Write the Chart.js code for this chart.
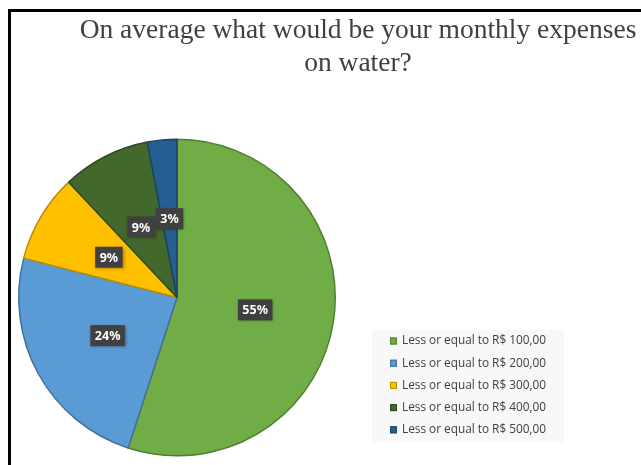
<!DOCTYPE html>
<html lang="en">
<head>
    <meta charset="UTF-8">
    <title>Monthly water expenses</title>
    <script src="https://cdn.jsdelivr.net/npm/chart.js"></script>
    <style>
        body {
            margin: 0;
            padding: 0;
            background: #fff;
            width: 641px;
            height: 465px;
            overflow: hidden;
            position: relative;
        }
        .frame {
            position: absolute;
            left: 8px;
            top: 9px;
            right: 0;
            bottom: 0;
            border-left: 3px solid #000;
            border-top: 3px solid #000;
        }
        .title {
            position: absolute;
            left: 40px;
            width: 636px;
            top: 12px;
            text-align: center;
            font-family: "Liberation Serif", "DejaVu Serif", serif;
            font-size: 27.5px;
            line-height: 33px;
            color: #404040;
        }
        #chart {
            position: absolute;
            left: 0;
            top: 0;
        }
    </style>
</head>
<body>
    <div class="frame"></div>
    <canvas id="chart" width="641" height="465"></canvas>
    <div class="title">On average what would be your monthly expenses<br>on water?</div>
    <script>
        // Survey answers (share of respondents, %)
        const categories = [
            'Less or equal to R$ 100,00',
            'Less or equal to R$ 200,00',
            'Less or equal to R$ 300,00',
            'Less or equal to R$ 400,00',
            'Less or equal to R$ 500,00'
        ];
        const shares = [55, 24, 9, 9, 3];
        const sliceColors = ['#70ad47', '#5b9bd5', '#ffc000', '#43682b', '#255e91'];
        const sliceEdges = ['#507e32', '#41719c', '#bc8c00', '#2f4b1e', '#1a4468'];

        // Dark boxes with the percentage in the middle of each slice
        const sliceLabels = {
            id: 'sliceLabels',
            afterDatasetsDraw(chart) {
                const ctx = chart.ctx;
                const meta = chart.getDatasetMeta(0);
                ctx.save();
                ctx.font = 'bold 12.5px "Noto Sans", sans-serif';
                ctx.textAlign = 'center';
                ctx.textBaseline = 'middle';
                meta.data.forEach((arc, i) => {
                    const pos = arc.tooltipPosition();
                    const text = shares[i] + '%';
                    const w = ctx.measureText(text).width + 9;
                    const h = 21;
                    ctx.shadowColor = 'rgba(0,0,0,0.35)';
                    ctx.shadowBlur = 3;
                    ctx.shadowOffsetX = 1;
                    ctx.shadowOffsetY = 1;
                    ctx.fillStyle = '#404040';
                    ctx.fillRect(pos.x - w / 2, pos.y - h / 2, w, h);
                    ctx.shadowColor = 'transparent';
                    ctx.fillStyle = '#ffffff';
                    ctx.fillText(text, pos.x, pos.y + 1);
                });
                ctx.restore();
            }
        };

        // Legend box in the lower right corner
        const boxLegend = {
            id: 'boxLegend',
            afterDraw(chart) {
                const ctx = chart.ctx;
                const x = 372, y = 330, w = 192, rowH = 22.2;
                ctx.save();
                ctx.fillStyle = '#f8f8f8';
                ctx.fillRect(x, y, w, 112);
                ctx.font = '11.8px "Open Sans", sans-serif';
                ctx.textBaseline = 'middle';
                chart.data.labels.forEach((label, i) => {
                    const cy = y + 11 + i * rowH;
                    ctx.fillStyle = sliceColors[i];
                    ctx.fillRect(x + 18, cy - 3.5, 7, 7);
                    ctx.strokeStyle = sliceEdges[i];
                    ctx.lineWidth = 1;
                    ctx.strokeRect(x + 18.5, cy - 3, 6, 6);
                    ctx.fillStyle = '#404040';
                    ctx.fillText(label, x + 30, cy);
                });
                ctx.restore();
            }
        };

        new Chart(document.getElementById('chart'), {
            type: 'pie',
            data: {
                labels: categories,
                datasets: [{
                    data: shares,
                    backgroundColor: sliceColors,
                    borderColor: sliceEdges,
                    borderWidth: 1.5
                }]
            },
            options: {
                responsive: false,
                animation: false,
                layout: {
                    padding: { left: 18, right: 305, top: 138, bottom: 8 }
                },
                plugins: {
                    legend: { display: false },
                    title: { display: false },
                    tooltip: { enabled: false }
                }
            },
            plugins: [sliceLabels, boxLegend]
        });
    </script>
</body>
</html>
